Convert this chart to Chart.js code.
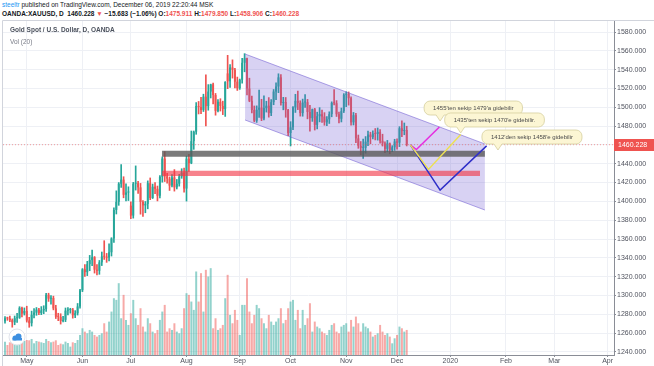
<!DOCTYPE html>
<html>
<head>
<meta charset="utf-8">
<script src="https://cdn.jsdelivr.net/npm/chart.js@4.4.1/dist/chart.umd.min.js"></script>
<style>
body{margin:0;width:654px;height:366px;overflow:hidden;background:#fff;font-family:"Liberation Sans",Arial,sans-serif;position:relative}
#hdr{position:absolute;left:2px;top:0;font-size:6.5px;line-height:9px;color:#131722;white-space:nowrap}
#hdr .u{color:#2196f3}
#hdr .b{font-weight:bold}
#hdr .r{color:#ef5350}
#legend{position:absolute;left:10px;top:24px;font-size:6.5px;line-height:12px;color:#4c525e;white-space:nowrap;z-index:2}
#legend .v{color:#787b86;font-weight:normal}
#wrap{position:absolute;left:0;top:20px;width:654px;height:346px}
</style>
</head>
<body>
<div id="hdr">
<div><span class="u">steeltr</span> published on TradingView.com, December 06, 2019 22:20:44 MSK</div>
<div class="b">OANDA:XAUUSD, D&nbsp; 1460.228 <span class="r">▼</span> −15.683 (−1.06%) O:<span class="r">1475.911</span> H:<span class="r">1479.850</span> L:<span class="r">1458.906</span> C:<span class="r">1460.228</span></div>
</div>
<div id="legend"><div style="font-weight:bold">Gold Spot / U.S. Dollar, D, OANDA</div><div class="v">Vol (20)</div></div>
<div id="wrap"><canvas id="c" width="654" height="346"></canvas></div>
<script>
// daily bars, index 0 = Apr 18 2019 ... 166 = Dec 06 2019
const opens = [
1272.5,1275.7,1275.6,1273.7,1271.5,1275.8,1276.3,1286.9,1280.8,
1283.6,1273.4,1270.5,1279.4,1281.8,1285.0,1281.4,1284.2,1285.7,1300.8,1296.6,1297.3,1286.3,1277.4,1277.3,1273.0,1274.1,1283.9,1284.6,1285.0,1279.0,1281.1,1288.3,
1305.6,1327.8,1324.8,1333.3,1337.6,1340.7,1327.4,1326.3,1335.2,1341.5,1341.2,1340.2,1345.9,1360.6,1390.9,1399.5,1418.8,1423.1,1407.0,1409.4,
1395.5,1384.9,1418.8,1419.2,1414.9,1399.5,1395.7,1397.4,1419.3,1403.6,1415.6,1413.4,1406.0,1426.2,1445.5,1426.6,1424.2,1416.8,1425.5,1414.9,1418.8,1426.5,1430.5,
1413.6,1445.4,1440.6,1464.0,1474.0,1501.4,1500.4,1497.2,1511.3,1501.2,1516.7,1524.3,1513.0,1496.2,1505.9,1501.4,1498.1,1536.0,1527.6,1542.3,1539.8,1527.2,
1520.2,1529.3,1547.3,1552.2,1519.9,1506.9,1497.2,1485.7,1497.4,1499.6,1488.1,1499.1,1501.7,1493.8,1505.4,1516.7,1522.1,1531.8,1504.6,1505.6,1497.4,
1472.6,1478.7,1499.9,1506.9,1504.7,1493.8,1505.1,1505.4,1495.0,1488.4,1497.9,1481.3,1490.5,1492.7,1490.2,1484.0,1487.2,1492.7,1504.7,1504.3,1492.6,1487.8,1495.9,
1513.3,1514.4,1509.7,1484.0,1491.6,1466.9,1459.1,1456.9,1456.9,1463.5,1471.0,1468.3,1472.1,1471.6,1473.9,1464.4,1461.6,1455.8,1461.6,1454.5,1457.5,
1463.7,1462.4,1477.7,1474.7,1475.911
];
const highs = [
1277.6,1277.0,1278.0,1275.1,1278.2,1280.9,1288.1,1287.7,1286.8,
1288.6,1276.8,1283.4,1286.1,1287.2,1286.4,1288.2,1289.1,1302.3,1302.4,1300.0,1299.3,1289.6,1281.1,1280.6,1277.8,1286.7,1287.1,1286.4,1286.3,1283.9,1291.5,1306.5,
1328.6,1332.8,1336.3,1342.6,1348.3,1341.4,1332.8,1337.2,1346.2,1358.2,1344.7,1354.8,1361.4,1393.1,1411.2,1420.0,1439.2,1426.2,1418.6,1415.5,
1399.6,1420.2,1437.7,1421.4,1419.1,1400.9,1399.9,1421.8,1424.9,1418.4,1419.9,1416.3,1427.5,1447.3,1452.9,1429.9,1426.0,1428.6,1433.8,1423.3,1428.7,1434.7,1435.5,
1448.1,1449.9,1474.8,1474.8,1505.0,1506.2,1510.7,1513.9,1534.6,1524.1,1524.6,1525.8,1514.7,1508.3,1509.1,1506.5,1527.3,1555.2,1545.4,1550.4,1541.4,1532.1,
1530.0,1552.0,1557.0,1552.4,1530.9,1511.9,1501.4,1501.5,1518.2,1508.5,1512.2,1506.4,1510.3,1508.2,1518.9,1526.1,1535.6,1534.8,1510.6,1510.4,1497.8,
1484.7,1500.7,1513.8,1517.2,1506.9,1508.7,1513.6,1508.4,1502.2,1498.2,1498.9,1494.8,1499.6,1497.0,1494.3,1490.0,1495.2,1505.8,1518.9,1507.1,1494.9,1499.2,1514.5,
1516.5,1516.3,1511.0,1494.5,1493.6,1470.5,1463.6,1466.3,1468.9,1474.6,1473.5,1475.1,1477.4,1478.0,1476.2,1471.4,1463.4,1464.8,1462.1,1459.2,1466.0,
1466.5,1479.4,1485.6,1483.3,1479.850
];
const lows = [
1270.5,1273.6,1272.3,1266.3,1268.9,1271.5,1275.6,1277.3,1279.2,
1271.7,1266.2,1267.5,1276.1,1278.9,1279.6,1279.6,1280.6,1283.0,1293.7,1290.8,1284.7,1275.5,1273.2,1269.6,1271.8,1272.2,1279.4,1281.2,1275.9,1276.4,1279.2,1286.6,
1304.1,1320.2,1321.1,1326.3,1331.8,1323.8,1321.9,1322.5,1331.8,1338.3,1335.2,1336.6,1341.9,1356.4,1386.6,1395.8,1414.8,1403.8,1400.4,1400.9,
1381.6,1382.2,1412.0,1408.4,1386.4,1384.1,1387.9,1392.1,1401.8,1403.0,1408.2,1400.5,1403.6,1420.4,1421.1,1419.3,1411.6,1415.3,1410.9,1413.2,1416.2,1424.5,1409.8,
1400.3,1431.9,1440.0,1455.3,1471.3,1492.9,1493.3,1495.5,1480.1,1496.9,1509.9,1503.5,1491.6,1495.0,1496.0,1492.2,1490.3,1519.8,1521.2,1531.0,1520.6,1517.9,
1519.0,1525.7,1537.7,1513.2,1505.9,1494.1,1484.5,1483.9,1489.1,1485.8,1486.5,1494.9,1489.5,1491.1,1502.7,1508.1,1515.5,1502.3,1497.3,1489.4,1469.8,
1458.9,1476.2,1494.5,1497.5,1490.6,1490.5,1499.8,1487.7,1474.7,1485.0,1475.8,1477.0,1484.5,1483.9,1480.9,1480.4,1482.8,1489.9,1502.5,1490.2,1483.4,1484.4,1494.4,
1500.6,1502.3,1481.0,1481.2,1462.5,1456.4,1449.5,1445.7,1451.2,1459.2,1461.2,1466.4,1465.3,1465.1,1461.8,1458.8,1451.8,1452.6,1450.6,1452.8,1454.2,
1455.6,1458.2,1468.9,1470.8,1458.906
];
const closes = [
1275.7,1275.6,1273.7,1271.5,1275.8,1276.3,1286.9,1280.8,1283.6,
1273.4,1270.5,1279.4,1281.8,1285.0,1281.4,1284.2,1285.7,1300.8,1296.6,1297.3,1286.3,1277.4,1277.3,1273.0,1274.1,1283.9,1284.6,1285.0,1279.0,1281.1,1288.3,1305.6,
1327.8,1324.8,1333.3,1337.6,1340.7,1327.4,1326.3,1335.2,1341.5,1341.2,1340.2,1345.9,1360.6,1390.9,1399.5,1418.8,1423.1,1407.0,1409.4,1409.4,
1384.9,1418.8,1419.2,1414.9,1399.5,1395.7,1397.4,1419.3,1403.6,1415.6,1413.4,1406.0,1426.2,1445.5,1426.6,1424.2,1416.8,1425.5,1414.9,1418.8,1426.5,1430.5,1413.6,
1445.4,1440.6,1464.0,1474.0,1501.4,1500.4,1497.2,1511.3,1501.2,1516.7,1524.3,1513.0,1496.2,1505.9,1501.4,1498.1,1526.9,1527.6,1542.3,1539.8,1527.2,1520.2,
1529.3,1547.3,1552.2,1519.9,1506.9,1497.2,1485.7,1497.4,1499.6,1488.1,1499.1,1501.7,1493.8,1505.4,1516.7,1522.1,1531.8,1504.6,1505.6,1497.4,1472.6,
1478.7,1499.9,1506.9,1504.7,1493.8,1505.1,1505.4,1495.0,1488.4,1497.9,1481.3,1490.5,1492.7,1490.2,1484.0,1487.2,1492.7,1504.7,1504.3,1492.6,1487.8,1495.9,1513.3,
1514.4,1509.7,1484.0,1491.6,1466.9,1459.1,1456.9,1456.9,1463.5,1471.0,1468.3,1472.1,1471.6,1473.9,1464.4,1461.6,1455.8,1461.6,1454.5,1457.5,1463.7,
1462.4,1477.7,1474.7,1475.911,1460.228
];
const volumes = [
40,30,38,42,45,40,48,38,42,
45,44,48,35,42,40,38,36,48,42,38,40,44,30,34,32,40,36,25,38,36,45,60,
80,70,65,75,70,60,55,60,65,95,70,100,130,170,165,215,110,180,105,90,
125,165,110,90,140,85,70,110,95,70,65,75,105,130,150,70,80,75,95,70,65,80,140,
185,180,160,135,250,160,245,130,255,235,260,80,110,75,80,90,170,240,120,95,135,105,
60,150,150,230,130,95,120,150,140,110,95,80,120,100,90,100,110,140,95,105,140,
160,165,105,135,80,135,90,110,155,70,100,85,80,70,65,60,75,90,95,70,65,85,90,
95,70,105,85,115,95,70,95,85,80,70,55,60,65,90,70,60,65,55,35,50,
60,85,80,70,75
];

const priceTicks = [1240,1260,1280,1300,1320,1340,1360,1380,1400,1420,1440,1460,1480,1500,1520,1540,1560,1580];
const monthTickIdx = [9,32,52,75,97,118,141,162,184,207,227,249];
const monthTickLabels = ['May','Jun','Jul','Aug','Sep','Oct','Nov','Dec','2020','Feb','Mar','Apr'];

// drawings (bar index, price)
const channelTop = [[99.2,1556.6],[198.3,1461.0]];
const channelBottom = [[99.2,1486.5],[198.3,1390.8]];
const grayZone = [64.9,198.3,1447.5,1453.9];
const redZone = [64.9,196.3,1427.0,1432.6];
const pathMagenta = [[167.5,1460],[170.0,1455],[179.5,1479]];
const pathYellow = [[167.5,1460],[175.0,1434],[188.3,1471]];
const pathBlue = [[167.5,1460],[179.8,1412],[199.0,1459]];
const notes = [
  {text:"1455'ten sekip 1479'a gidebilir", x:179.8, y:1485.4},
  {text:"1435'ten sekip 1470'e gidebilir.", x:188.3, y:1472.7},
  {text:"1412'den sekip 1458'e gidebilir", x:203.7, y:1454.6}
];

const UP = '#26a69a', DOWN = '#ef5350';
const last = closes.length - 1;
const xMin = -0.826, xMax = 251.65;

const pts = a => a.map(p => ({x:p[0], y:p[1]}));
const idx = closes.map((c,i) => i);
const isUp = i => closes[i] >= opens[i];

const volData = idx.map(i => ({x:i, y:volumes[i]}));
const wickData = idx.map(i => ({x:i, y:[lows[i], highs[i]]}));
const bodyData = idx.map(i => ({x:i, y:[opens[i], closes[i]]}));

const deco = {
  id:'deco',
  beforeDraw(chart){
    const ctx = chart.ctx, a = chart.chartArea;
    ctx.save();
    ctx.strokeStyle = '#d1d4dc';
    ctx.lineWidth = 1;
    ctx.beginPath();
    ctx.moveTo(a.left - 0.5, 346);
    ctx.lineTo(a.left - 0.5, 0.5);
    ctx.lineTo(654, 0.5);
    ctx.stroke();
    ctx.restore();
  },
  afterDatasetsDraw(chart){
    const ctx = chart.ctx, xs = chart.scales.x, ys = chart.scales.y;
    ctx.save();
    ctx.font = '6px "Liberation Sans", Arial, sans-serif';
    ctx.textBaseline = 'middle';
    notes.forEach(n => {
      const tx = xs.getPixelForValue(n.x), ty = ys.getPixelForValue(n.y);
      const w = ctx.measureText(n.text).width + 18, h = 14, r = 6;
      const l = tx - 16, t = ty - 20, R = l + w, b = t + h;
      ctx.beginPath();
      ctx.moveTo(l + r, t);
      ctx.lineTo(R - r, t);
      ctx.arcTo(R, t, R, t + r, r);
      ctx.lineTo(R, b - r);
      ctx.arcTo(R, b, R - r, b, r);
      ctx.lineTo(l + 20, b);
      ctx.lineTo(tx, ty);
      ctx.lineTo(l + 12, b);
      ctx.lineTo(l + r, b);
      ctx.arcTo(l, b, l, b - r, r);
      ctx.lineTo(l, t + r);
      ctx.arcTo(l, t, l + r, t, r);
      ctx.closePath();
      ctx.fillStyle = '#fcf6d4';
      ctx.fill();
      ctx.strokeStyle = '#d6cf9e';
      ctx.lineWidth = 0.8;
      ctx.stroke();
      ctx.fillStyle = '#4a4a4a';
      ctx.fillText(n.text, l + 9, t + h / 2 + 0.5);
    });
    ctx.restore();
  },
  afterDraw(chart){
    const ctx = chart.ctx, a = chart.chartArea, ys = chart.scales.y;
    ctx.save();
    // last price label
    const py = Math.round(ys.getPixelForValue(closes[last]));
    ctx.fillStyle = DOWN;
    ctx.fillRect(a.right, py - 6, 654 - a.right, 12);
    ctx.fillStyle = '#fff';
    ctx.font = '7px "Liberation Sans", Arial, sans-serif';
    ctx.textBaseline = 'middle';
    ctx.fillText(closes[last].toFixed(3), a.right + 4, py + 0.5);
    // TradingView badge
    ctx.beginPath();
    ctx.arc(17, 317, 8, 0, Math.PI * 2);
    ctx.fillStyle = '#fff';
    ctx.fill();
    ctx.strokeStyle = '#e0e3eb';
    ctx.stroke();
    ctx.fillStyle = '#3d8fe0';
    ctx.beginPath();
    ctx.arc(15, 318, 2.5, 0, Math.PI * 2);
    ctx.arc(18.5, 316.5, 3, 0, Math.PI * 2);
    ctx.fill();
    ctx.fillRect(12.5, 318, 9.5, 2.5);
    ctx.restore();
  }
};

const lineDs = (data, color, width, extra) => Object.assign({
  type:'line', data:data, borderColor:color, borderWidth:width,
  pointRadius:0, fill:false, tension:0, yAxisID:'y'
}, extra || {});

new Chart(document.getElementById('c'), {
  type:'bar',
  data:{
    datasets:[
      {data:volData, yAxisID:'yv', order:20, grouped:false,
       backgroundColor:idx.map(i => isUp(i) ? 'rgba(38,166,154,0.5)' : 'rgba(239,83,80,0.5)'),
       barPercentage:0.82, categoryPercentage:1},
      {data:wickData, yAxisID:'y', order:19, grouped:false, barThickness:1,
       backgroundColor:idx.map(i => isUp(i) ? UP : DOWN)},
      {data:bodyData, yAxisID:'y', order:18, grouped:false, minBarLength:1,
       backgroundColor:idx.map(i => isUp(i) ? UP : DOWN),
       barPercentage:0.8, categoryPercentage:1},
      lineDs(pts(channelTop), 'rgba(110,90,210,0.55)', 1, {order:10}),
      lineDs(pts(channelBottom), 'rgba(110,90,210,0.55)', 1, {order:9, fill:'-1', backgroundColor:'rgba(110,90,210,0.27)'}),
      lineDs([{x:grayZone[0], y:grayZone[3]}, {x:grayZone[1], y:grayZone[3]}], 'rgba(0,0,0,0)', 0,
        {order:8, fill:{value:grayZone[2]}, backgroundColor:'rgba(90,90,90,0.8)'}),
      lineDs([{x:redZone[0], y:redZone[3]}, {x:redZone[1], y:redZone[3]}], 'rgba(0,0,0,0)', 0,
        {order:7, fill:{value:redZone[2]}, backgroundColor:'rgba(242,54,69,0.62)'}),
      lineDs([{x:xMin, y:closes[last]}, {x:xMax, y:closes[last]}], 'rgba(239,83,80,0.55)', 1,
        {order:6, borderDash:[1,2]}),
      lineDs(pts(pathMagenta), '#e62ee0', 1.5, {order:3}),
      lineDs(pts(pathBlue), '#2f2fc8', 1.5, {order:2}),
      lineDs(pts(pathYellow), '#ece052', 1.5, {order:1})
    ]
  },
  options:{
    responsive:false,
    devicePixelRatio:1,
    animation:false,
    layout:{padding:{left:3, top:1, right:0, bottom:0}},
    plugins:{legend:{display:false}, tooltip:{enabled:false}},
    scales:{
      x:{
        type:'linear', min:xMin, max:xMax, offset:false,
        grid:{color:'#eef0f5', offset:false, drawTicks:true, tickLength:2, tickColor:'#8a8d96'},
        border:{color:'#8a8d96'},
        afterBuildTicks:s => { s.ticks = monthTickIdx.map(v => ({value:v})); },
        afterFit:s => { s.height = 11; s.paddingLeft = 0; s.paddingRight = 0; },
        ticks:{autoSkip:false, maxRotation:0, padding:0, color:'#50535e',
          font:{size:7, family:'"Liberation Sans", Arial, sans-serif'},
          callback:v => monthTickLabels[monthTickIdx.indexOf(v)]}
      },
      y:{
        position:'right', min:1236.75, max:1591.69,
        grid:{color:'#eef0f5', tickLength:2, tickColor:'#8a8d96'},
        border:{color:'#8a8d96'},
        afterBuildTicks:s => { s.ticks = priceTicks.map(v => ({value:v})); },
        afterFit:s => { s.width = 40; s.paddingTop = 0; s.paddingBottom = 0; },
        ticks:{padding:1, color:'#50535e',
          font:{size:7, family:'"Liberation Sans", Arial, sans-serif'},
          callback:v => v.toFixed(3)}
      },
      yv:{display:false, min:0, max:1000}
    }
  },
  plugins:[deco]
});
</script>
</body>
</html>
